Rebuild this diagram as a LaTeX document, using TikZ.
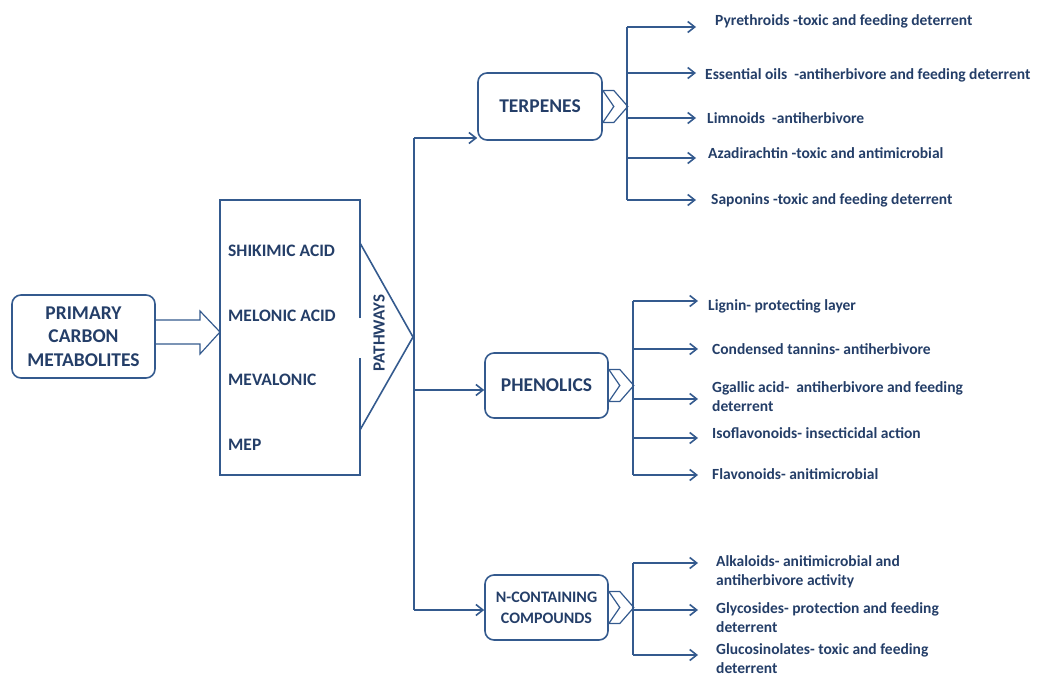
\documentclass[tikz,border=0pt]{standalone}
\usepackage{fontspec}
\setmainfont{Carlito}
\usetikzlibrary{arrows.meta,positioning}
\definecolor{lineblue}{RGB}{52,90,142}
\definecolor{textblue}{RGB}{36,62,104}

\tikzset{
  link/.style={draw=lineblue, line width=1.6pt},
  arr/.style={link, -{Straight Barb[length=7pt,width=11pt]}},
  groupbox/.style={link, rounded corners=9pt, text=textblue, align=center,
    font=\bfseries\fontsize{19.5}{23.5}\selectfont},
  pwtext/.style={text=textblue, anchor=west, inner sep=0pt,
    font=\bfseries\fontsize{17.5}{20}\selectfont},
  item/.style={text=textblue, anchor=west, inner sep=0pt, align=left,
    font=\bfseries\fontsize{15.5}{19}\selectfont},
}

\begin{document}
\begin{tikzpicture}[x=1pt,y=-1pt]
  \useasboundingbox (0,0) rectangle (1043,676);
  % source and pathway block
  \node[groupbox, minimum width=143pt, minimum height=83pt] (prim) at (83.5,336.5) {PRIMARY\\CARBON\\METABOLITES};
  \draw[link, line width=1.2pt] (155,320) -- (200,320) -- (200,311) -- (220,332) -- (200,354) -- (200,344) -- (155,344);
  \draw[link] (360,318) -- (360,200) -- (220,200) -- (220,475) -- (360,475) -- (360,358);
  \draw[link] (360,243) -- (413,337) -- (360,430);
  \foreach \i/\y/\name in {1/251/SHIKIMIC ACID, 2/316/MELONIC ACID, 3/380/MEVALONIC, 4/445/MEP}
    \node[pwtext] (pw\i) at (228,\y) {\name};
  \node[pwtext, anchor=center, rotate=90, font=\bfseries\fontsize{17}{20}\selectfont] (pwlabel) at (379,333) {PATHWAYS};
  % trunk and the three groups
  \coordinate (ttop) at (414,138);
  \coordinate (tmid) at (414,390);
  \coordinate (tbot) at (414,610);
  \draw[link] (ttop) -- (tbot);
  \node[groupbox, minimum width=124pt, minimum height=67pt] (terp) at (540,106.5) {TERPENES};
  \node[groupbox, minimum width=123pt, minimum height=65pt] (phen) at (546.5,385.5) {PHENOLICS};
  \node[groupbox, minimum width=123pt, minimum height=65pt, font=\bfseries\fontsize{16}{21}\selectfont] (ncomp) at (546.5,607.5) {N-CONTAINING\\COMPOUNDS};
  \draw[arr] (ttop) -- (ttop -| terp.west);
  \draw[arr] (tmid) -- (tmid -| phen.west);
  \draw[arr] (tbot) -- (tbot -| ncomp.west);
  \foreach \b in {terp,phen,ncomp}
    \draw[link, fill=white, line width=1.2pt] ([yshift=16pt]\b.east) -- ++(11,0) -- ++(14,16) -- ++(-14,16) -- ++(-11,0) -- ++(11,-16) -- cycle;
  % terpenes branch
  \foreach \i/\ya/\yt/\xt/\txt in {
    1/27/21/715/{Pyrethroids -toxic and feeding deterrent},
    2/73/75/705/{Essential oils\ \ -antiherbivore and feeding deterrent},
    3/118/118/707/{Limnoids\ \ -antiherbivore},
    4/158/153/708/{Azadirachtin -toxic and antimicrobial},
    5/200/200/711/{Saponins -toxic and feeding deterrent}} {
    \coordinate (ta\i) at (627,\ya);
    \coordinate (te\i) at (696,\ya);
    \node[item] (tl\i) at (\xt,\yt) {\txt};
    \draw[arr] (ta\i) -- (te\i);
  }
  \draw[link] (ta1) -- (ta5);
  % phenolics branch
  \foreach \i/\ya/\yt/\xt/\txt in {
    1/301/306/708/{Lignin- protecting layer},
    2/349/349/712/{Condensed tannins- antiherbivore},
    3/399/397/712/{Ggallic acid-\ \ antiherbivore and feeding\\deterrent},
    4/438/433/712/{Isoflavonoids- insecticidal action},
    5/475/474/712/{Flavonoids- anitimicrobial}} {
    \coordinate (pa\i) at (633,\ya);
    \coordinate (pe\i) at (698,\ya);
    \node[item] (pl\i) at (\xt,\yt) {\txt};
    \draw[arr] (pa\i) -- (pe\i);
  }
  \draw[link] (pa1) -- (pa5);
  % n-containing branch
  \foreach \i/\ya/\yt/\xt/\txt in {
    1/563/572/716/{Alkaloids- anitimicrobial and\\antiherbivore activity},
    2/610/617.5/716/{Glycosides- protection and feeding\\deterrent},
    3/655/659/716/{Glucosinolates- toxic and feeding\\deterrent}} {
    \coordinate (na\i) at (633,\ya);
    \coordinate (ne\i) at (698,\ya);
    \node[item] (nl\i) at (\xt,\yt) {\txt};
    \draw[arr] (na\i) -- (ne\i);
  }
  \draw[link] (na1) -- (na3);
\end{tikzpicture}
\end{document}
